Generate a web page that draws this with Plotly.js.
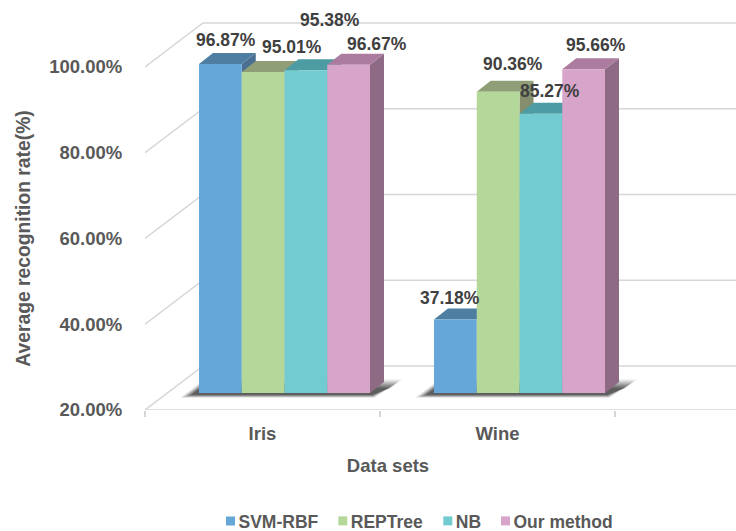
<!DOCTYPE html>
<html><head><meta charset="utf-8">
<script src="https://cdn.plot.ly/plotly-3.0.1.min.js"></script>
<style>html,body{margin:0;padding:0;background:#fff}</style></head>
<body><div id="chart" style="width:736px;height:531px"></div>
<script>
// ---- data ----
const categories = ['Iris', 'Wine'];
const seriesNames = ['SVM-RBF', 'REPTree', 'NB', 'Our method'];
const svmRbf = [96.87, 37.18];
const repTree = [95.01, 90.36];
const nb = [95.38, 85.27];
const ourMethod = [96.67, 95.66];
const yTicks = [20, 40, 60, 80, 100];

// ---- styles ----
const frontColors = ['#65a7d8', '#b4d79a', '#72cbd0', '#d8a5ca'];
const topColors = ['#4f7ea3', '#8f9e76', '#4d9ca3', '#ab7ca0'];
const sideColors = ['#4a6f90', '#858f6d', '#46878e', '#8e6a84'];
const allSeries = [svmRbf, repTree, nb, ourMethod];
const labelShift = [[[6,24],[-5,21],], [[29,25],[14.5,28]], [[24,50],[9,23]], [[28,21],[12.5,24]]];
const legendSquareX = [226, 338.3, 443.3, 501];
const FONT = '"Liberation Sans", Arial, sans-serif';

// ---- geometry of the pseudo-3D frame (pixels of the page) ----
const PX_PER_CAT = 235, PX_PER_UNIT = 4.2875, BAR_PX_PER_UNIT = 4.28;
const L = 145, R = 736, FLOOR = 410, W = R - L;
const wallDX = 58, wallDY = 44, barDX = 14, barDY = 11, barInX = 22, barInY = 17;
const groupWidth = 171 / 235, barW = groupWidth / 4;
const xpx = v => v / PX_PER_CAT, ypx = v => v / PX_PER_UNIT;

const traces = [];
// invisible trace that keeps the main (tick-bearing) axes alive
traces.push({type:'scatter', mode:'none', x:[0, 1], y:[20, 100], showlegend:false, hoverinfo:'skip'});
// frame lines on x2/y2 (x2: -0.5 at left, y2: 20 at floor)
const x0 = -0.5, xEnd = x0 + xpx(W);
function line(xs, ys) {
  traces.push({type:'scatter', mode:'lines', x:xs, y:ys, xaxis:'x2', yaxis:'y2', showlegend:false,
    hoverinfo:'skip', line:{color:'#d6d6d6', width:1.5}});
}
line([x0, xEnd], [20, 20]);
yTicks.forEach(g => {
  line([x0, x0 + xpx(wallDX), xEnd], [g, g + ypx(wallDY), g + ypx(wallDY)]);
});
// soft floor shadows: nested translucent polygons
const shadowLayers = [[1.0,0.05],[0.92,0.08],[0.84,0.1],[0.76,0.12],[0.68,0.14],[0.6,0.16],[0.52,0.2],[0.44,0.24],[0.36,0.28]];
categories.forEach((c, ci) => {
  const cx = ci + xpx(barInX);
  shadowLayers.forEach(([k, a]) => {
    const hx = v => cx + xpx(v);
    const lo = 20 + ypx(FLOOR - (393 + 5 * k));
    const hi = 20 + ypx(FLOOR - (393 - 14 * k));
    const xs = [hx(-86 - 19 * k), hx(86 + 4 * k), hx(100 + 18 * k), hx(-86 + 6 * k), hx(-86 - 19 * k)];
    traces.push({type:'scatter', mode:'lines', x:xs, y:[lo, lo, hi, hi, lo], xaxis:'x2', yaxis:'y2',
      fill:'toself', fillcolor:`rgba(50,50,50,${a})`, line:{width:0}, showlegend:false, hoverinfo:'skip'});
  });
});
// side and top faces, built from the values (x3/y3 share the bars' plane)
allSeries.forEach((vals, s) => {
  const sx = [], sy = [], tx = [], ty = [];
  vals.forEach((v, ci) => {
    const l = ci - groupWidth / 2 + s * barW, r = l + barW, dx = xpx(barDX), dy = barDY / BAR_PX_PER_UNIT;
    sx.push(r, r + dx, r + dx, r, r, null); sy.push(20, 20 + dy, v + dy, v, 20, null);
    tx.push(l, r, r + dx, l + dx, l, null); ty.push(v, v, v + dy, v + dy, v, null);
  });
  traces.push({type:'scatter', mode:'lines', x:sx, y:sy, xaxis:'x3', yaxis:'y3', fill:'toself',
    fillcolor:sideColors[s], line:{width:0}, showlegend:false, hoverinfo:'skip', zorder:1});
  traces.push({type:'scatter', mode:'lines', x:tx, y:ty, xaxis:'x3', yaxis:'y3', fill:'toself',
    fillcolor:topColors[s], line:{width:0}, showlegend:false, hoverinfo:'skip', zorder:1});
});
// front faces: real bars
allSeries.forEach((vals, s) => {
  traces.push({type:'bar', name:seriesNames[s], x:categories.map((_, i) => i), y:vals, xaxis:'x3', yaxis:'y3',
    marker:{color:frontColors[s], line:{width:0}}, zorder:2});
});

const annotations = [];
allSeries.forEach((vals, s) => vals.forEach((v, ci) => {
  annotations.push({xref:'x3', yref:'y3', x:ci - groupWidth / 2 + (s + 0.5) * barW, y:v,
    text:v.toFixed(2) + '%', showarrow:false, xanchor:'center', yanchor:'middle',
    xshift:labelShift[s][ci][0], yshift:labelShift[s][ci][1],
    font:{family:FONT, size:17.5, color:'#404040', weight:700}});
}));

const mainRight = (631 - L) / W;
const axisFont = {family:FONT, size:18.5, color:'#595959', weight:700};
const layout = {
  width:736, height:531, paper_bgcolor:'#fff', plot_bgcolor:'rgba(0,0,0,0)',
  margin:{l:L, r:0, t:0, b:531 - FLOOR, pad:0, autoexpand:false},
  showlegend:true, barmode:'group', bargap:1 - groupWidth, bargroupgap:0, hovermode:false,
  font:{family:FONT},
  xaxis:{domain:[0, mainRight], range:[x0, x0 + mainRight * xpx(W)], anchor:'y', automargin:false,
    tickmode:'array', tickvals:categories.map((_, i) => i), ticktext:categories,
    ticks:'outside', ticklen:7, tickcolor:'rgba(0,0,0,0)', showgrid:false, zeroline:false,
    showline:false, tickfont:axisFont,
    minor:{tickmode:'array', tickvals:[-0.5, 0.5, 1.5], ticks:'outside', ticklen:6, tickcolor:'#d6d6d6', tickwidth:1.5, showgrid:false},
    title:{text:'Data sets', standoff:15, font:axisFont}},
  yaxis:{domain:[0, (FLOOR - 67) / FLOOR], range:[20, 100], anchor:'x', automargin:false, tickmode:'array', tickvals:yTicks,
    ticktext:yTicks.map(t => t.toFixed(2) + '%'), ticks:'outside', ticklen:18, tickcolor:'rgba(0,0,0,0)',
    showgrid:false, zeroline:false, showline:false, tickfont:axisFont,
    title:{text:'Average recognition rate(%)', standoff:13, font:{family:FONT, size:19.3, color:'#595959', weight:700}}},
  xaxis2:{domain:[0, 1], range:[x0, xEnd], anchor:'y2', visible:false},
  yaxis2:{domain:[0, 1], range:[20, 20 + ypx(FLOOR)], anchor:'x2', visible:false},
  xaxis3:{domain:[0, 1], range:[-0.5 - xpx(barInX), -0.5 - xpx(barInX) + xpx(W)], anchor:'y3', visible:false},
  yaxis3:{domain:[barInY / FLOOR, 1], range:[20, 20 + (FLOOR - barInY) / BAR_PX_PER_UNIT], anchor:'x3', visible:false},
  legend:{orientation:'h', x:(420 - L) / W, xanchor:'center', y:-(521 - FLOOR) / FLOOR, yanchor:'middle',
    font:{family:FONT, size:17.5, color:'#595959', weight:700}, bgcolor:'rgba(0,0,0,0)'},
  annotations:annotations
};
Plotly.newPlot('chart', traces, layout, {displayModeBar:false, staticPlot:true}).then(gd => {
  // tighten the legend entries to the reference's spacing
  const root = gd.querySelector('.legend');
  const m = /translate\(([-\d.]+)[ ,]+([-\d.]+)\)/.exec(root.getAttribute('transform'));
  const lx = parseFloat(m[1]);
  gd.querySelectorAll('.legend .traces').forEach((g, i) => {
    const t = /translate\(([-\d.]+)[ ,]+([-\d.]+)\)/.exec(g.getAttribute('transform'));
    g.setAttribute('transform', `translate(${legendSquareX[i] - lx},${t[2]})`);
    const p = g.querySelector('.legendpoints path');
    if (p) { p.setAttribute('d', 'M4.5,4.5H-4.5V-4.5H4.5Z'); p.setAttribute('transform', 'translate(4.5,0)'); }
    const tx = g.querySelector('.legendtext');
    if (tx) tx.setAttribute('x', 12.5);
  });
});
</script></body></html>
